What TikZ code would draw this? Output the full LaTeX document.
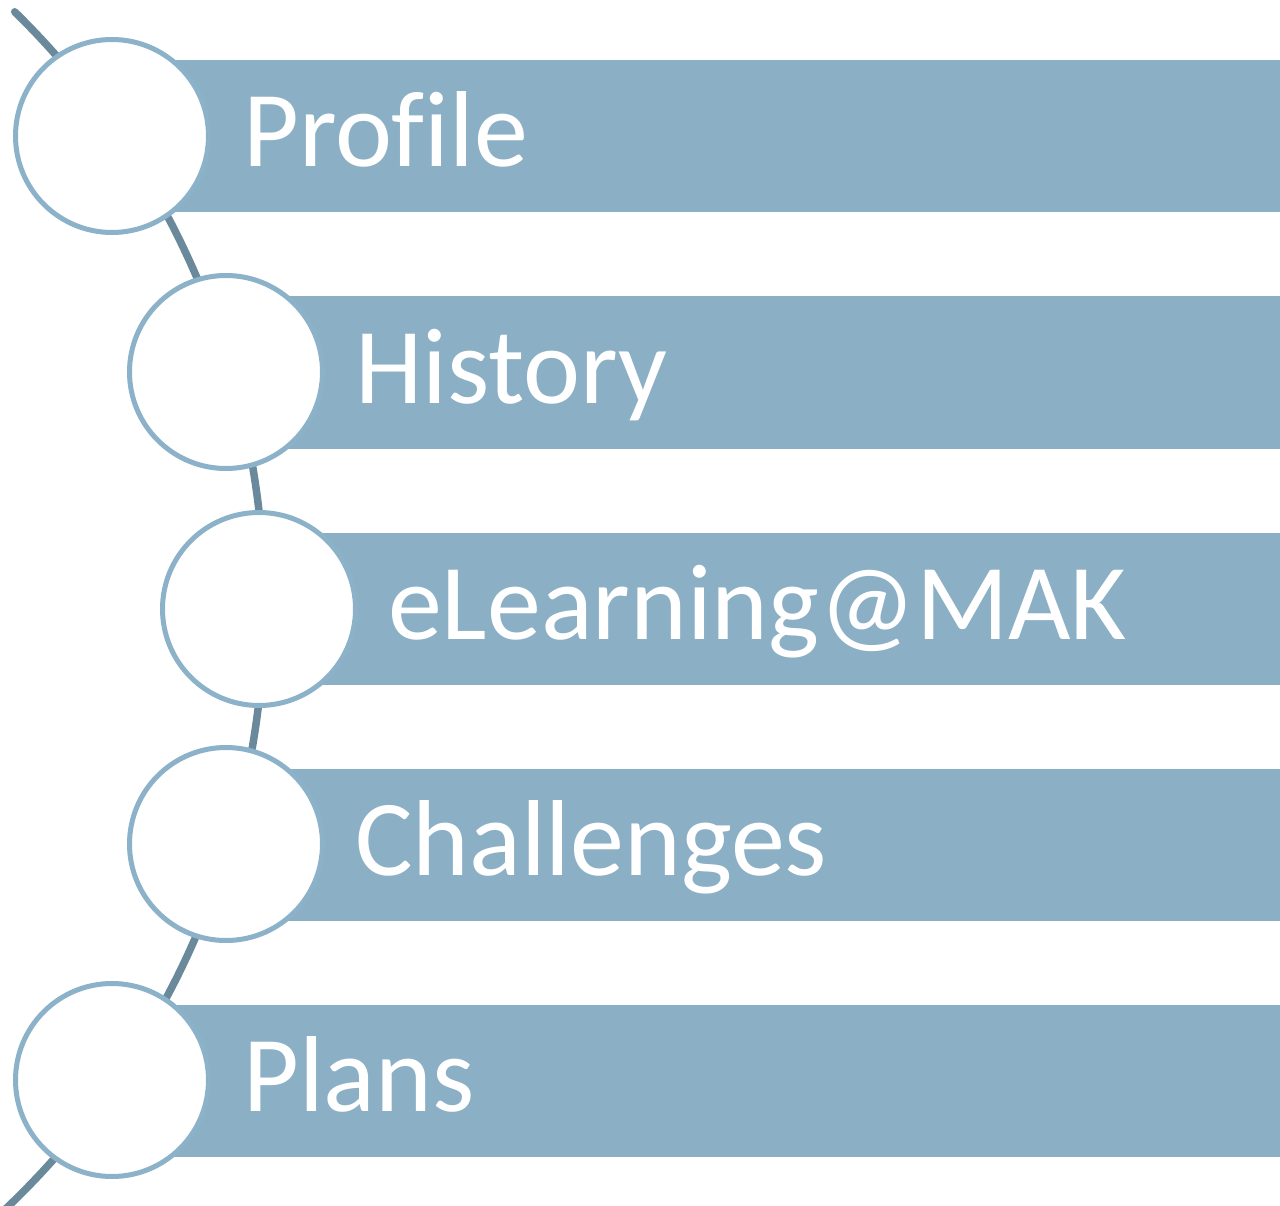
\documentclass[tikz,border=0pt]{standalone}
\usepackage{fontspec}
\setmainfont[Ligatures={NoCommon}]{Carlito}
\definecolor{barcol}{RGB}{139,175,197}
\definecolor{ringcol}{RGB}{139,178,200}
\definecolor{arccol}{RGB}{106,138,156}
\tikzset{
  barbox/.style={fill=barcol, draw=none, rectangle, anchor=west, minimum width=1200pt, minimum height=152pt, inner sep=0pt},
  ringnode/.style={circle, draw=ringcol, line width=5pt, fill=white, minimum size=193pt, inner sep=0pt},
  label/.style={anchor=base west, text=white, inner sep=0pt, font=\fontsize{108}{120}\selectfont},
  spine/.style={draw=arccol, line width=7.5pt, line cap=round}
}
\begin{document}
\begin{tikzpicture}[x=1pt,y=-1pt]
\useasboundingbox (0,0) rectangle (1280,1206);
\clip (0,0) rectangle (1280,1206);
\fill[white] (0,0) rectangle (1280,1206);
% spine arc
\draw[spine] (14.7,11.8) arc[start angle=-45.6, end angle=47, radius=831.6];
% bars
\node[barbox] (b1) at (112,136) {};
\node[barbox] (b2) at (226,372.5) {};
\node[barbox] (b3) at (259,608.5) {};
\node[barbox] (b4) at (226,844.5) {};
\node[barbox] (b5) at (112,1081) {};
% circles
\node[ringnode] (c1) at (112,136) {};
\node[ringnode] (c2) at (226,372) {};
\node[ringnode] (c3) at (259,609) {};
\node[ringnode] (c4) at (226,844) {};
\node[ringnode] (c5) at (112,1080) {};
% labels
\node[label] (t1) at (243,167) {Profile};
\node[label] (t2) at (355,403) {History};
\node[label] (t3) at (388,639) {eLearning@MAK};
\node[label] (t4) at (355,875) {Challenges};
\node[label] (t5) at (243,1111) {Plans};
\end{tikzpicture}
\end{document}
